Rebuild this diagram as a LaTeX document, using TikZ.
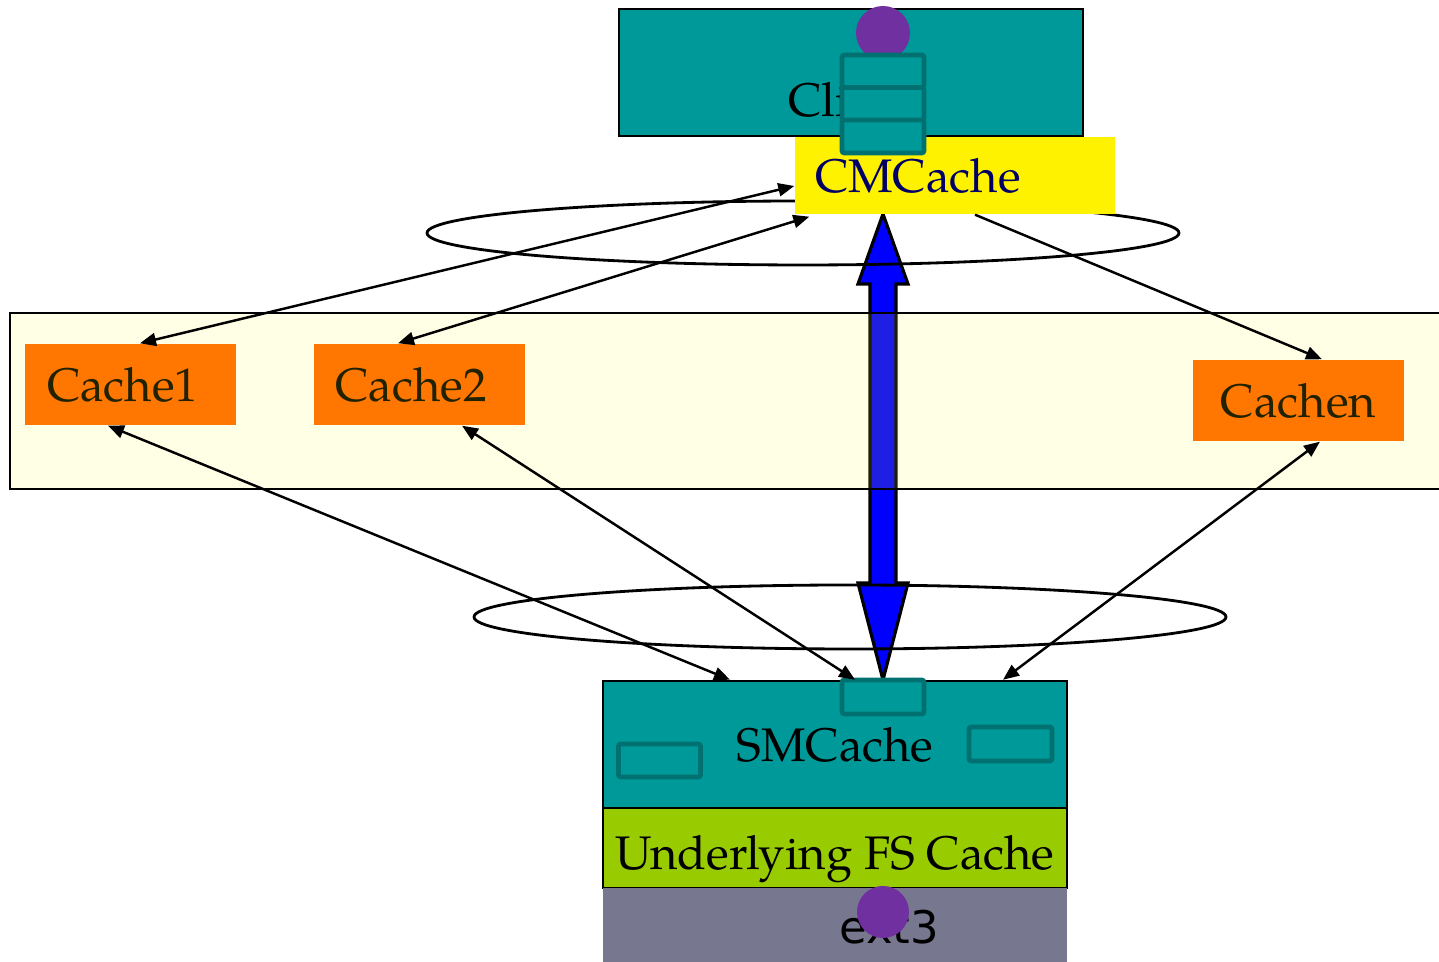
\documentclass[tikz,border=0pt]{standalone}
\usepackage{fontspec}
\setmainfont{TeX Gyre Pagella}
\newfontfamily\extfont{DejaVu Sans}
\usetikzlibrary{arrows.meta}

\definecolor{tealfill}{RGB}{0,153,153}
\definecolor{tealdark}{RGB}{0,112,112}
\definecolor{cacheorange}{RGB}{255,119,0}
\definecolor{cachetext}{RGB}{34,34,0}
\definecolor{cmtext}{RGB}{0,0,102}
\definecolor{fsgreen}{RGB}{153,204,0}
\definecolor{extgray}{RGB}{119,119,143}
\definecolor{dotpurple}{RGB}{112,48,160}
\definecolor{bandyellow}{RGB}{255,255,38}

\begin{document}
\begin{tikzpicture}[>={Triangle[length=1.6mm,width=1.3mm]},
  txt/.style={font=\fontsize{13.4}{16}\selectfont},
  tealbox/.style={txt, draw, line width=0.7pt, fill=tealfill, inner sep=0pt,
    minimum width=4.64cm},
  cachebox/.style={txt, fill=cacheorange, text=cachetext, inner sep=0pt,
    minimum width=2.11cm, minimum height=0.81cm},
  slot/.style={draw=tealdark, fill=tealfill, line width=1.3pt, rounded corners=0.6pt,
    minimum width=0.82cm, minimum height=0.33cm, inner sep=0pt},
  conn/.style={line width=0.7pt}]

  \useasboundingbox (0,0) rectangle (14.39,9.62);

  % 蓝色双向箭头
  \coordinate (bt) at (8.83,7.48);
  \coordinate (bb) at (8.83,2.82);
  \filldraw[fill=blue, line width=0.9pt] (bt) -- (9.08,6.78) -- (8.96,6.78) -- (8.96,3.79)
    -- (9.08,3.79) -- (bb) -- (8.58,3.79) -- (8.70,3.79) -- (8.70,6.78) -- (8.58,6.78) -- cycle;

  % 缓存层
  \draw[fill=bandyellow, fill opacity=0.12, line width=0.7pt] (0.10,4.73) rectangle (14.60,6.49);
  \node[cachebox, text width=1.67cm, align=left, inner xsep=0.22cm] (c1) at (1.305,5.775) {Cache1};
  \node[cachebox, text width=1.67cm, align=left, inner xsep=0.21cm] (c2) at (4.19,5.775) {Cache2};
  \node[cachebox] (cn) at (12.985,5.615) {Cachen};

  % 椭圆
  \draw[line width=0.8pt] (8.03,7.29) ellipse (3.76 and 0.32);
  \draw[line width=0.8pt] (8.50,3.45) ellipse (3.76 and 0.32);

  % 客户端
  \node[tealbox, minimum height=1.27cm] (client) at (8.51,8.895) {};
  \node[txt] (clienttext) at (8.51,8.62) {Client};
  \node[txt, fill=yellow, text=cmtext, minimum height=0.77cm, text width=2.8cm,
    inner xsep=0.2cm, inner ysep=0pt, align=left] (cm) at (9.55,7.865) {CMCache};
  \fill[dotpurple] (8.83,9.29) circle (0.27);
  \foreach \i/\y in {1/8.905, 2/8.58, 3/8.255}
    \node[slot] (s\i) at (8.83,\y) {};

  % 服务端
  \node[tealbox, minimum height=1.27cm] (sm) at (8.35,2.175) {SMCache};
  \node[slot, minimum height=0.34cm] (q1) at (8.83,2.65) {};
  \node[slot, minimum height=0.33cm] (q2) at (6.595,2.015) {};
  \node[slot, minimum height=0.34cm, minimum width=0.83cm] (q3) at (10.105,2.18) {};
  \node[tealbox, fill=fsgreen, minimum height=0.80cm, text height=0.55cm, text depth=0.12cm]
    (fs) at (8.35,1.14) {Underlying FS Cache};
  \node[fill=extgray, minimum width=4.64cm, minimum height=0.74cm, inner sep=0pt] (ext) at (8.35,0.37) {};
  \node[font=\extfont\fontsize{12.8}{15}\selectfont] (exttext) at (8.89,0.35) {ext3};
  \fill[dotpurple] (8.83,0.50) circle (0.26);

  % 连线
  \draw[<->, conn] ([xshift=0.95mm]c1.north) -- ([yshift=-1.05mm]cm.west);
  \draw[<->, conn] ([xshift=-2.1mm]c2.north) -- ([xshift=1.5mm, yshift=-0.2mm]cm.south west);
  \draw[->, conn] ([xshift=2mm]cm.south) -- ([xshift=2.35mm]cn.north);
  \draw[<->, conn] ([xshift=-2.25mm]c1.south) -- ([xshift=-10.5mm]sm.north);
  \draw[<->, conn] ([xshift=4.3mm]c2.south) -- ([xshift=2mm]sm.north);
  \draw[<->, conn] ([xshift=2.15mm]cn.south) -- ([xshift=16.8mm]sm.north);

\end{tikzpicture}
\end{document}
